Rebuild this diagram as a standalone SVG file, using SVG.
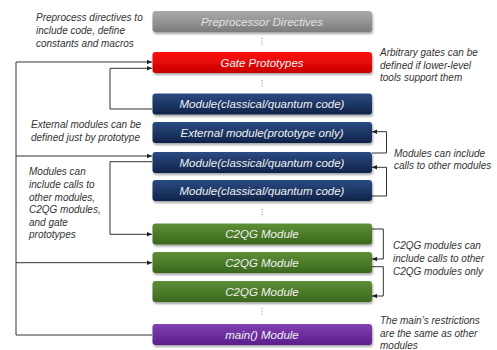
<svg xmlns="http://www.w3.org/2000/svg" width="497" height="350" viewBox="0 0 497 350">
<defs>
<linearGradient id="gGray" x1="0" y1="0" x2="0" y2="1"><stop offset="0" stop-color="#ababab"/><stop offset="1" stop-color="#7c7c7c"/></linearGradient>
<linearGradient id="gRed" x1="0" y1="0" x2="0" y2="1"><stop offset="0" stop-color="#ff1010"/><stop offset="1" stop-color="#c80000"/></linearGradient>
<linearGradient id="gNavy" x1="0" y1="0" x2="0" y2="1"><stop offset="0" stop-color="#2b4b82"/><stop offset="1" stop-color="#0f2349"/></linearGradient>
<linearGradient id="gGreen" x1="0" y1="0" x2="0" y2="1"><stop offset="0" stop-color="#5e8f37"/><stop offset="1" stop-color="#3a681d"/></linearGradient>
<linearGradient id="gPurple" x1="0" y1="0" x2="0" y2="1"><stop offset="0" stop-color="#8240b4"/><stop offset="1" stop-color="#5a1e8a"/></linearGradient>
<filter id="sh" x="-5%" y="-20%" width="110%" height="160%"><feDropShadow dx="1" dy="2" stdDeviation="1.2" flood-color="#000" flood-opacity="0.35"/></filter>
<marker id="arr" markerUnits="userSpaceOnUse" markerWidth="6" markerHeight="6" refX="5" refY="3" orient="auto"><path d="M0,0.8 L5,3 L0,5.2 Z" fill="#222"/></marker>
</defs>
<style>
.box{filter:url(#sh)}
.bt{font-family:"Liberation Sans",Arial,sans-serif;font-style:italic;font-size:11.5px;text-anchor:middle;fill:#f0f0f0}
.ann{font-family:"Liberation Sans",Arial,sans-serif;font-style:italic;font-size:10px;fill:#333}
.con{fill:none;stroke:#333;stroke-width:1}
.dots{stroke:#888;stroke-width:1;stroke-dasharray:1 1.6}
</style>

<g id="annotations">
<text class="ann" x="36" y="21">Preprocess directives to</text>
<text class="ann" x="36" y="34">include code, define</text>
<text class="ann" x="36" y="47">constants and macros</text>
<text class="ann" x="380" y="56">Arbitrary gates can be</text>
<text class="ann" x="380" y="68.5">defined if lower-level</text>
<text class="ann" x="380" y="81">tools support them</text>
<text class="ann" x="31" y="128">External modules can be</text>
<text class="ann" x="31" y="141">defined just by prototype</text>
<text class="ann" x="29" y="175">Modules can</text>
<text class="ann" x="29" y="188">include calls to</text>
<text class="ann" x="29" y="200.5">other modules,</text>
<text class="ann" x="29" y="213">C2QG modules,</text>
<text class="ann" x="29" y="225.5">and gate</text>
<text class="ann" x="29" y="238">prototypes</text>
<text class="ann" x="394" y="157">Modules can include</text>
<text class="ann" x="394" y="169">calls to other modules</text>
<text class="ann" x="393" y="249">C2QG modules can</text>
<text class="ann" x="393" y="262">include calls to other</text>
<text class="ann" x="393" y="275">C2QG modules only</text>
<text class="ann" x="380" y="324">The main’s restrictions</text>
<text class="ann" x="380" y="337">are the same as other</text>
<text class="ann" x="380" y="349">modules</text>
</g>

<g id="connectors">
<path class="con" d="M16,62 V335 H152"/>
<path class="con" d="M16,62 H152" marker-end="url(#arr)"/>
<path class="con" d="M16,156 H152" marker-end="url(#arr)"/>
<path class="con" d="M16,262.7 H152" marker-end="url(#arr)"/>
<path class="con" d="M152,109 H110 V68.3 H152" marker-end="url(#arr)"/>
<path class="con" d="M152,161.7 H110 V234.3 H152" marker-end="url(#arr)"/>
<path class="con" d="M372,153 H386.5 V131.7 H372" marker-end="url(#arr)"/>
<path class="con" d="M372,196 H386.5 V167.3 H372" marker-end="url(#arr)"/>
<path class="con" d="M372,229 H383.3 V259 H372" marker-end="url(#arr)"/>
<path class="con" d="M372,266.7 H383.3 V296 H372" marker-end="url(#arr)"/>
<line class="dots" x1="262" y1="38" x2="262" y2="46"/>
<line class="dots" x1="262" y1="80" x2="262" y2="87"/>
<line class="dots" x1="262" y1="209" x2="262" y2="217"/>
<line class="dots" x1="262" y1="308" x2="262" y2="316"/>
</g>

<g id="preprocessor"><rect class="box" x="152.5" y="11" width="219.5" height="21" rx="3" fill="url(#gGray)"/><text class="bt" x="262" y="25.5" style="fill:#e2e2e2">Preprocessor Directives</text></g>
<g id="gate"><rect class="box" x="152.5" y="52" width="219.5" height="21" rx="3" fill="url(#gRed)"/><text class="bt" x="262" y="66.5">Gate Prototypes</text></g>
<g id="module1"><rect class="box" x="152.5" y="93.5" width="219.5" height="21" rx="3" fill="url(#gNavy)"/><text class="bt" x="262" y="108">Module(classical/quantum code)</text></g>
<g id="external"><rect class="box" x="152.5" y="122" width="219.5" height="21" rx="3" fill="url(#gNavy)"/><text class="bt" x="262" y="136.5">External module(prototype only)</text></g>
<g id="module2"><rect class="box" x="152.5" y="152" width="219.5" height="21" rx="3" fill="url(#gNavy)"/><text class="bt" x="262" y="166.5">Module(classical/quantum code)</text></g>
<g id="module3"><rect class="box" x="152.5" y="180" width="219.5" height="21" rx="3" fill="url(#gNavy)"/><text class="bt" x="262" y="194.5">Module(classical/quantum code)</text></g>
<g id="c2qg1"><rect class="box" x="152.5" y="223.5" width="219.5" height="21" rx="3" fill="url(#gGreen)"/><text class="bt" x="262" y="238">C2QG Module</text></g>
<g id="c2qg2"><rect class="box" x="152.5" y="252" width="219.5" height="21" rx="3" fill="url(#gGreen)"/><text class="bt" x="262" y="266.5">C2QG Module</text></g>
<g id="c2qg3"><rect class="box" x="152.5" y="281" width="219.5" height="21" rx="3" fill="url(#gGreen)"/><text class="bt" x="262" y="295.5">C2QG Module</text></g>
<g id="main"><rect class="box" x="152.5" y="324" width="219.5" height="21" rx="3" fill="url(#gPurple)"/><text class="bt" x="262" y="338.5">main() Module</text></g>
</svg>
